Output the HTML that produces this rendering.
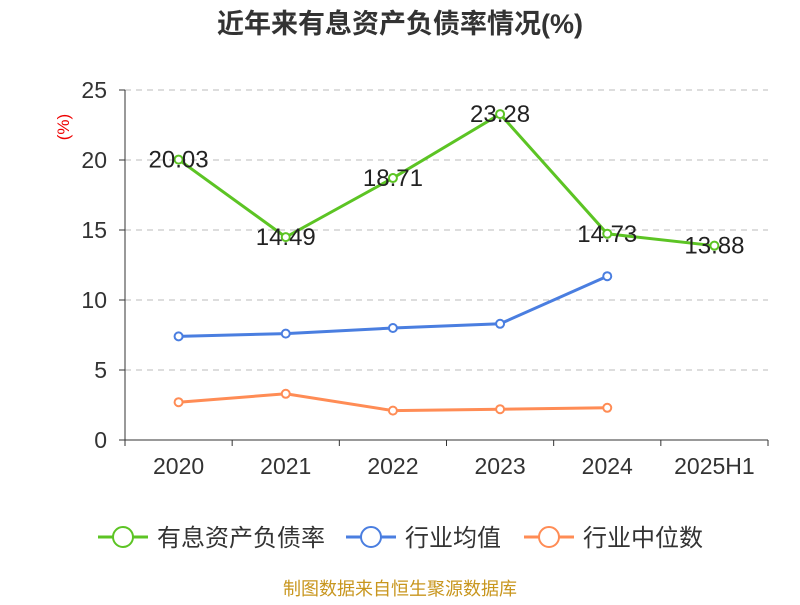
<!DOCTYPE html>
<html><head><meta charset="utf-8"><style>
body{margin:0;width:800px;height:600px;background:#fff;overflow:hidden}
svg text{font-family:"Liberation Sans","Noto Sans CJK SC",sans-serif}
</style></head><body>
<svg id="c" width="800" height="600">
<text x="400" y="33" text-anchor="middle" font-size="27" font-weight="bold" fill="#333">近年来有息资产负债率情况(%)</text>
<text x="69" y="127" transform="rotate(-90 69 127)" text-anchor="middle" font-size="17" fill="#e00">(%)</text>
<g id="grid"></g><g id="axes"></g><g id="series"></g>
<g>
<g><line x1="98" y1="537" x2="148" y2="537" stroke="#5cc424" stroke-width="3"/><circle cx="123" cy="537" r="10" fill="#fff" stroke="#5cc424" stroke-width="2"/><text x="157" y="546" font-size="24" fill="#333">有息资产负债率</text></g>
<g><line x1="346" y1="537" x2="396" y2="537" stroke="#4a7ee0" stroke-width="3"/><circle cx="371" cy="537" r="10" fill="#fff" stroke="#4a7ee0" stroke-width="2"/><text x="405" y="546" font-size="24" fill="#333">行业均值</text></g>
<g><line x1="524" y1="537" x2="574" y2="537" stroke="#ff8c55" stroke-width="3"/><circle cx="549" cy="537" r="10" fill="#fff" stroke="#ff8c55" stroke-width="2"/><text x="583" y="546" font-size="24" fill="#333">行业中位数</text></g>
</g>
<text x="400" y="595" text-anchor="middle" font-size="18" fill="#c8961e">制图数据来自恒生聚源数据库</text>
</svg>
<script>
const categories=["2020","2021","2022","2023","2024","2025H1"];
const debtRatio=[20.03,14.49,18.71,23.28,14.73,13.88];
const industryAvg=[7.4,7.6,8.0,8.3,11.7];
const industryMedian=[2.7,3.3,2.1,2.2,2.3];
const yTicks=[0,5,10,15,20,25];
const NS="http://www.w3.org/2000/svg";
const x0=125,x1=768,y0=440,yTop=90,yMax=25;
const bw=(x1-x0)/categories.length;
const X=i=>x0+bw*(i+0.5);
const Y=v=>y0-(v/yMax)*(y0-yTop);
function mk(p,t,a){const e=document.createElementNS(NS,t);for(const k in a)e.setAttribute(k,a[k]);p.appendChild(e);return e;}
const grid=document.getElementById('grid'),axes=document.getElementById('axes'),ser=document.getElementById('series');
yTicks.forEach(v=>{
 if(v>0){const g=mk(grid,'line',{x1:x0,x2:x1,y1:Y(v),y2:Y(v),stroke:'#bbb','stroke-dasharray':'6,5'});
 }
 const t=mk(axes,'text',{x:x0-18,y:Y(v)+8,'text-anchor':'end','font-size':23,fill:'#333'});t.textContent=v;
 
 mk(axes,'line',{x1:x0-6,x2:x0,y1:Y(v),y2:Y(v),stroke:'#333'});
});
const ya=mk(axes,'line',{x1:x0,x2:x0,y1:yTop,y2:y0,stroke:'#333'});

const xa=mk(axes,'line',{x1:x0,x2:x1,y1:y0,y2:y0,stroke:'#333'});

for(let i=0;i<=categories.length;i++)mk(axes,'line',{x1:x0+bw*i,x2:x0+bw*i,y1:y0,y2:y0+6,stroke:'#333'});
categories.forEach((c,i)=>{const t=mk(axes,'text',{x:X(i),y:474,'text-anchor':'middle','font-size':23,fill:'#333'});t.textContent=c;
 });
function line(data,color,name,labels){
 const g=mk(ser,'g',{});
 mk(g,'polyline',{points:data.map((v,i)=>X(i)+','+Y(v)).join(' '),fill:'none',stroke:color,'stroke-width':3});
 data.forEach((v,i)=>{const c=mk(g,'circle',{cx:X(i),cy:Y(v),r:4,fill:'#fff',stroke:color,'stroke-width':2});
  
  if(labels){const t=mk(g,'text',{x:X(i),y:Y(v)+8,'text-anchor':'middle','font-size':24,fill:'#222'});t.textContent=v.toFixed(2);
   }});
}
line(industryMedian,'#ff8c55','industry-median-line',false);
line(industryAvg,'#4a7ee0','industry-average-line',false);
line(debtRatio,'#5cc424','debt-ratio-line',true);
</script>
</body></html>
